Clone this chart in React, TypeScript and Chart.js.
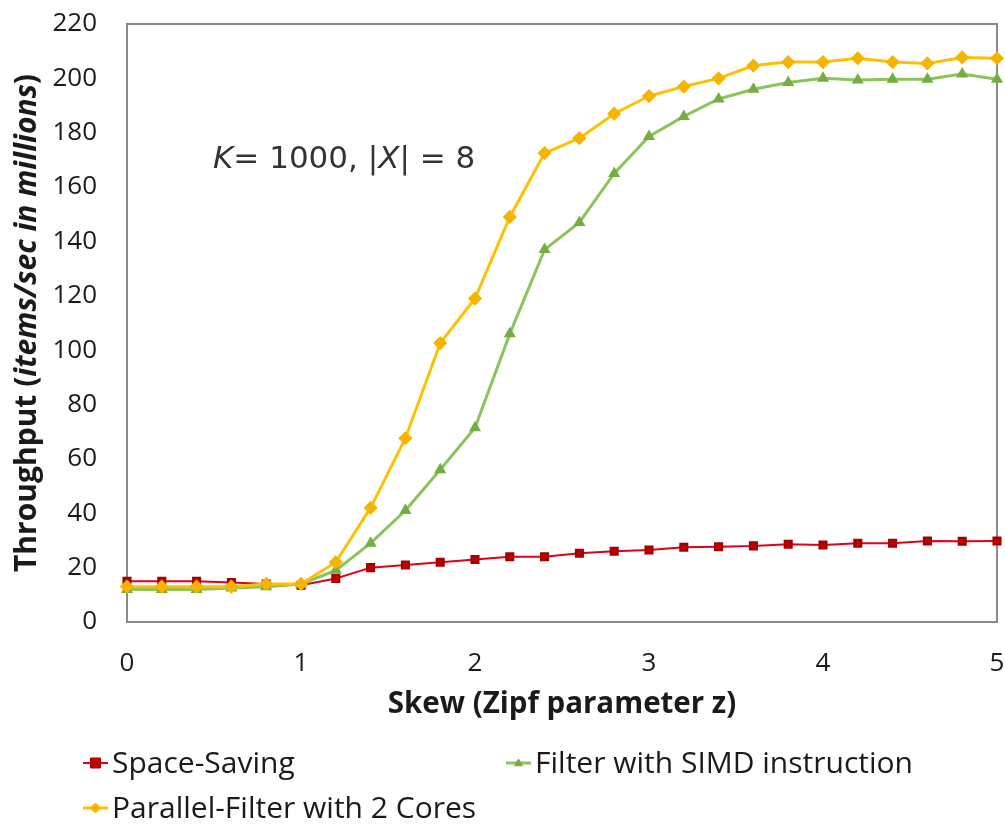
import React, { useEffect, useRef } from "react";
import { Chart, registerables } from "chart.js";

Chart.register(...registerables);

// ---- data ----
const skew = [0, 0.2, 0.4, 0.6, 0.8, 1, 1.2, 1.4, 1.6, 1.8, 2, 2.2, 2.4, 2.6, 2.8, 3, 3.2, 3.4, 3.6, 3.8, 4, 4.2, 4.4, 4.6, 4.8, 5];
const spaceSaving = [15, 15, 15, 14.5, 14, 13.5, 16, 20, 21, 22, 23, 24, 24, 25.3, 26, 26.5, 27.5, 27.7, 28, 28.6, 28.3, 29, 29, 29.8, 29.7, 29.8];
const simdFilter = [12, 12, 12, 12.5, 13, 14, 19, 29, 41, 56, 71.5, 106, 137, 147, 165, 178.6, 186, 192.4, 196, 198.5, 200, 199.4, 199.7, 199.7, 201.6, 199.7];
const parallelFilter = [13, 13, 13, 13, 14, 14, 22, 42, 67.6, 102.6, 119, 149, 172.5, 178, 187, 193.5, 197, 200, 204.7, 206, 206, 207.4, 206, 205.5, 207.7, 207.4];

const seriesNames = ["Space-Saving", "Filter with SIMD instruction", "Parallel-Filter with 2 Cores"];
const xTitle = "Skew (Zipf parameter z)";
const yTitleParts: [string, boolean][] = [["Throughput (", false], ["items/sec in millions", true], [")", false]];
const noteParts: [string, boolean][] = [["K", true], ["= 1000, |", false], ["X", true], ["| = 8", false]];
const xMin = 0, xMax = 5, xStep = 1;
const yMin = 0, yMax = 220, yStep = 20;

const UI_FONT = '"Open Sans", "Noto Sans", sans-serif';

function toPoints(ys: number[]) {
  return ys.map((y, i) => ({ x: skew[i], y }));
}

function drawParts(ctx: CanvasRenderingContext2D, parts: [string, boolean][], base: string, size: number, family: string, x: number, y: number, align: "left" | "center") {
  const fonts = parts.map(([, it]) => `${it ? "italic " : ""}${base} ${size}px ${family}`);
  let total = 0;
  const widths = parts.map(([t], i) => {
    ctx.font = fonts[i];
    const w = ctx.measureText(t).width;
    total += w;
    return w;
  });
  let cx = align === "center" ? x - total / 2 : x;
  ctx.textAlign = "left";
  parts.forEach(([t], i) => {
    ctx.font = fonts[i];
    ctx.fillText(t, cx, y);
    cx += widths[i];
  });
}

const decorPlugin = {
  id: "decor",
  beforeDatasetsDraw(chart: any) {
    const { ctx, chartArea } = chart;
    ctx.save();
    ctx.strokeStyle = "#8a8a8a";
    ctx.lineWidth = 2;
    ctx.strokeRect(chartArea.left, chartArea.top, chartArea.right - chartArea.left, chartArea.bottom - chartArea.top);
    ctx.restore();
  },
  afterDraw(chart: any) {
    const { ctx, chartArea } = chart;
    ctx.save();
    ctx.fillStyle = "#1a1a1a";
    ctx.textBaseline = "middle";

    // y title (rotated)
    ctx.save();
    ctx.translate(27, (chartArea.top + chartArea.bottom) / 2);
    ctx.rotate(-Math.PI / 2);
    drawParts(ctx, yTitleParts, "bold", 30, UI_FONT, 0, 0, "center");
    ctx.restore();

    // x title
    ctx.textBaseline = "alphabetic";
    drawParts(ctx, [[xTitle, false]], "bold", 29.5, UI_FONT, (chartArea.left + chartArea.right) / 2, 713, "center");

    // annotation
    ctx.fillStyle = "#333333";
    drawParts(ctx, noteParts, "normal", 31, '"DejaVu Sans", sans-serif', 213, 168, "left");

    // legend
    const spots = [
      { x: 83, y: 773 },
      { x: 506, y: 773 },
      { x: 83, y: 818 },
    ];
    chart.data.datasets.forEach((ds: any) => {
      const s = spots[ds.legendIndex];
      const my = s.y - 10;
      ctx.strokeStyle = ds.borderColor;
      ctx.lineWidth = ds.borderWidth;
      ctx.beginPath();
      ctx.moveTo(s.x, my);
      ctx.lineTo(s.x + 25, my);
      ctx.stroke();
      ctx.fillStyle = ds.pointBackgroundColor;
      ctx.strokeStyle = ds.pointBorderColor;
      ctx.lineWidth = 1;
      ctx.beginPath();
      const r = ds.pointRadius;
      const cx = s.x + 12.5;
      if (ds.pointStyle === "rect") {
        ctx.rect(cx - r, my - r, 2 * r, 2 * r);
      } else if (ds.pointStyle === "triangle") {
        ctx.moveTo(cx, my - r);
        ctx.lineTo(cx + r, my + r * 0.7);
        ctx.lineTo(cx - r, my + r * 0.7);
        ctx.closePath();
      } else {
        ctx.moveTo(cx, my - r);
        ctx.lineTo(cx + r, my);
        ctx.lineTo(cx, my + r);
        ctx.lineTo(cx - r, my);
        ctx.closePath();
      }
      ctx.fill();
      ctx.stroke();
      ctx.fillStyle = "#1a1a1a";
      ctx.font = `normal 30px ${UI_FONT}`;
      ctx.textAlign = "left";
      ctx.fillText(ds.label, s.x + 29, s.y);
    });
    ctx.restore();
  },
};

export default function App() {
  const ref = useRef<HTMLCanvasElement | null>(null);

  useEffect(() => {
    if (!ref.current) return;
    const chart = new Chart(ref.current, {
      type: "line",
      data: {
        datasets: [
          {
            label: seriesNames[2],
            legendIndex: 2,
            data: toPoints(parallelFilter),
            borderColor: "#FFC000",
            borderWidth: 3,
            pointStyle: "rectRot",
            pointRadius: 5,
            pointBackgroundColor: "#F4B400",
            pointBorderColor: "#F4B400",
            order: 0,
            clip: false,
          } as any,
          {
            label: seriesNames[1],
            legendIndex: 1,
            data: toPoints(simdFilter),
            borderColor: "#8CC35A",
            borderWidth: 3,
            pointStyle: "triangle",
            pointRadius: 4,
            pointBackgroundColor: "#72AE42",
            pointBorderColor: "#72AE42",
            order: 1,
            clip: false,
          } as any,
          {
            label: seriesNames[0],
            legendIndex: 0,
            data: toPoints(spaceSaving),
            borderColor: "#E00018",
            borderWidth: 2,
            pointStyle: "rect",
            pointRadius: 5,
            pointBackgroundColor: "#C00000",
            pointBorderColor: "#A00000",
            order: 2,
            clip: false,
          } as any,
        ],
      },
      options: {
        responsive: false,
        animation: false,
        layout: { padding: { left: 0, top: 24, right: 7, bottom: 0 } },
        plugins: {
          legend: { display: false },
          tooltip: { enabled: false },
        },
        scales: {
          x: {
            type: "linear",
            min: xMin,
            max: xMax,
            ticks: { stepSize: xStep, padding: 26, color: "#1a1a1a", font: { family: UI_FONT, size: 26 } },
            grid: { display: false, drawTicks: false },
            border: { display: false },
            afterFit: (s: any) => {
              s.height = 205;
              s.paddingLeft = 0;
              s.paddingRight = 0;
            },
          },
          y: {
            type: "linear",
            min: yMin,
            max: yMax,
            ticks: { stepSize: yStep, padding: 30, color: "#1a1a1a", font: { family: UI_FONT, size: 26 } },
            grid: { display: false, drawTicks: false },
            border: { display: false },
            afterFit: (s: any) => {
              s.width = 127;
              s.paddingTop = 0;
              s.paddingBottom = 0;
            },
          },
        },
      },
      plugins: [decorPlugin],
    });
    return () => chart.destroy();
  }, []);

  return (
    <div style={{ position: "fixed", left: 0, top: 0, width: 1005, height: 827, background: "#fff" }}>
      <canvas ref={ref} width={1005} height={827} />
    </div>
  );
}
